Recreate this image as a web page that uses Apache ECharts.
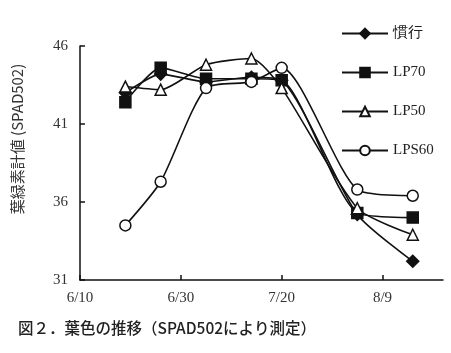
<!DOCTYPE html>
<html lang="ja">
<head>
    <meta charset="UTF-8">
    <title>葉色の推移</title>
    <script src="https://cdn.jsdelivr.net/npm/echarts@6/dist/echarts.min.js"></script>
    <style>
        html, body { margin: 0; padding: 0; background: #fff; }
        #chart { width: 451px; height: 353px; }
    </style>
</head>
<body>
    <div id="chart"></div>
    <script>
        // 調査日
        const dates = ['6/19', '6/26', '7/5', '7/14', '7/20', '8/4', '8/15'];
        const xTicks = ['6/10', '6/30', '7/20', '8/9'];
        const yTicks = [31, 36, 41, 46];
        // SPAD値
        const kanko = [43.0, 44.2, 43.7, 44.0, 43.8, 35.2, 32.2];
        const lp70 = [42.4, 44.6, 43.9, 43.9, 43.8, 35.3, 35.0];
        const lp50 = [43.4, 43.2, 44.8, 45.2, 43.3, 35.6, 33.9];
        const lps60 = [34.5, 37.3, 43.3, 43.7, 44.6, 36.8, 36.4];

        // 6/10 からの日数に変換
        function dayOf(s) {
            const [m, d] = s.split('/').map(Number);
            const base = new Date(2000, 5, 10);
            return Math.round((new Date(2000, m - 1, d) - base) / 86400000);
        }
        const pairs = vals => dates.map((d, i) => [dayOf(d), vals[i]]);

        const serif = '"Liberation Serif", "DejaVu Serif", serif';
        const black = '#111';

        function line(name, vals, symbol, filled) {
            return {
                name: name,
                type: 'line',
                data: pairs(vals),
                smooth: 0.22,
                symbol: symbol,
                symbolSize: symbol === 'diamond' ? 12 : 11,
                showAllSymbol: true,
                lineStyle: { color: black, width: 1.6 },
                itemStyle: {
                    color: filled ? black : '#fff',
                    borderColor: black,
                    borderWidth: 1.5
                }
            };
        }

        const chart = echarts.init(document.getElementById('chart'));
        chart.setOption({
            animation: false,
            backgroundColor: '#fff',
            grid: { left: 80, right: 8, top: 46, bottom: 73 },
            title: {
                text: '図２．葉色の推移（SPAD502により測定）',
                left: 13, top: 315,
                textStyle: {
                    fontFamily: '"Noto Sans CJK JP", sans-serif',
                    fontSize: 15.5, fontWeight: 500, color: '#222'
                }
            },
            legend: {
                orient: 'vertical',
                left: 336, top: 21,
                itemWidth: 46, itemHeight: 12,
                itemGap: 24,
                textStyle: { fontFamily: serif, fontSize: 15, color: '#222' },
                data: ['慣行', 'LP70', 'LP50', 'LPS60']
            },
            xAxis: {
                type: 'value',
                min: 0, max: 72, interval: 20,
                axisLine: { lineStyle: { color: black, width: 1.5 } },
                axisTick: { inside: true, length: 5, lineStyle: { color: black, width: 1.5 } },
                splitLine: { show: false },
                axisLabel: {
                    showMaxLabel: false,
                    margin: 11,
                    fontFamily: serif, fontSize: 15, color: '#333',
                    formatter: v => xTicks[Math.round(v / 20)] || ''
                }
            },
            yAxis: {
                type: 'value',
                min: yTicks[0], max: yTicks[yTicks.length - 1], interval: 5,
                name: '葉緑素計値 (SPAD502)',
                nameLocation: 'middle',
                nameGap: 55,
                nameTextStyle: {
                    fontFamily: '"Noto Sans CJK JP", sans-serif',
                    fontSize: 15, color: '#333',
                    padding: [0, 0, 0, 48]
                },
                axisLine: { show: true, lineStyle: { color: black, width: 1.5 } },
                axisTick: { show: true, inside: true, length: 5, lineStyle: { color: black, width: 1.5 } },
                splitLine: { show: false },
                axisLabel: {
                    margin: 12,
                    fontFamily: serif, fontSize: 15, color: '#333'
                }
            },
            series: [
                line('慣行', kanko, 'diamond', true),
                line('LP70', lp70, 'rect', true),
                line('LP50', lp50, 'triangle', false),
                line('LPS60', lps60, 'circle', false)
            ]
        });
    </script>
</body>
</html>
